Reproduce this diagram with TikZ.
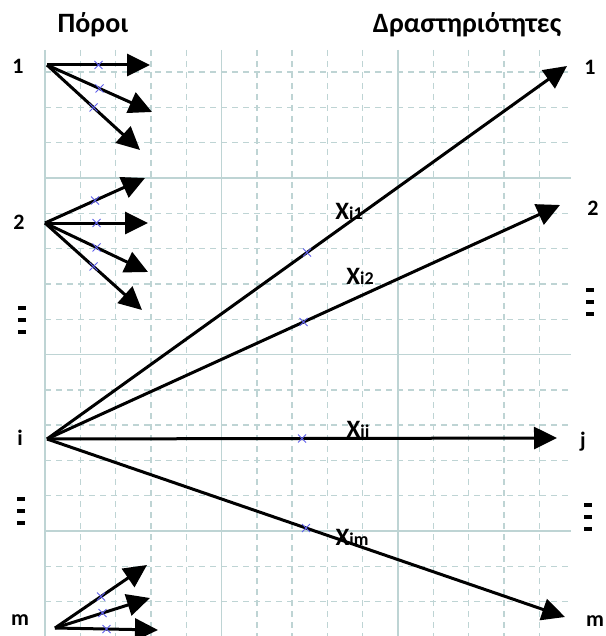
\documentclass[tikz,border=0pt]{standalone}
\usepackage{fontspec}
\setmainfont{Carlito}
\usetikzlibrary{arrows.meta,shapes.misc}
\definecolor{gridline}{RGB}{190,212,212}
\definecolor{markblue}{RGB}{95,95,235}
\newcommand{\threedots}{\vbox{\hrule width 4pt height 2pt\vskip 4pt\hrule width 4pt height 2pt\vskip 4pt\hrule width 4pt height 2pt}}

\begin{document}
\begin{tikzpicture}[x=0.5pt, y=-0.5pt,
  flow/.style={line width=1.5pt, -{Triangle[length=11.5pt, width=11pt]}},
  xmark/.style={cross out, draw=markblue, minimum size=3.5pt, inner sep=0pt, line width=0.5pt},
  lbl/.style={font=\fontsize{11}{13}\selectfont\bfseries, inner sep=0pt},
  ttl/.style={font=\fontsize{14}{17}\selectfont\bfseries, inner sep=0pt},
  amt/.style={font=\fontsize{12.5}{14}\selectfont\bfseries, inner sep=0pt}]
  \useasboundingbox (0,0) rectangle (605,636);
  % sheet grid, a solid line every fifth
  \foreach \k in {1,2,3,4,6,7,8,9,11,12,13,14}
    \draw[gridline, line width=0.7pt, dash pattern=on 3pt off 2.5pt] (45+35.3*\k, 50) -- (45+35.3*\k, 636);
  \foreach \k in {0,5,10}
    \draw[gridline, line width=0.7pt] (45+35.3*\k, 50) -- (45+35.3*\k, 636);
  \foreach \k in {0,1,2,4,5,6,7,9,10,11,12,14,15}
    \draw[gridline, line width=0.7pt, dash pattern=on 3pt off 2.5pt] (45, 72.1+35.3*\k) -- (571, 72.1+35.3*\k);
  \foreach \k in {3,8,13}
    \draw[gridline, line width=0.7pt] (45, 72.1+35.3*\k) -- (571, 72.1+35.3*\k);

  % headings
  \node[ttl] (Poroi) at (93,25) {Πόροι};
  \node[ttl] (Drast) at (467,25) {Δραστηριότητες};

  % resources on the left
  \node[lbl] (R1) at (18,66) {1};
  \node[lbl] (R2) at (19,222) {2};
  \node[inner sep=0pt] (Rd1) at (22,320) {\threedots};
  \node[lbl] (Ri) at (20,438) {i};
  \node[inner sep=0pt] (Rd2) at (21,511) {\threedots};
  \node[lbl] (Rm) at (20,620) {m};

  % activities on the right
  \node[lbl] (A1) at (590,67) {1};
  \node[lbl] (A2) at (593,208) {2};
  \node[inner sep=0pt] (Ad1) at (590,302) {\threedots};
  \node[lbl] (Aj) at (583,442) {j};
  \node[inner sep=0pt] (Ad2) at (588,517) {\threedots};
  \node[lbl] (Am) at (595,621) {m};

  % start and end points of the flows
  \coordinate (S1) at (47,65);
  \coordinate (S2) at (45,223);
  \coordinate (Si) at (47,439);
  \coordinate (Sm) at (55,628);
  \coordinate (T1a) at (150,65);
  \coordinate (T1b) at (152,112);
  \coordinate (T1c) at (140,150);
  \coordinate (T2a) at (145,178);
  \coordinate (T2b) at (148,223);
  \coordinate (T2c) at (148,272);
  \coordinate (T2d) at (142,310);
  \coordinate (Tma) at (147,565);
  \coordinate (Tmb) at (150,598);
  \coordinate (Tmc) at (158,630);
  \coordinate (E1) at (567,66);
  \coordinate (E2) at (560,205);
  \coordinate (Ej) at (557,438);
  \coordinate (Em) at (565,617);

  % short fans of resources 1, 2 and m
  \draw[flow] (S1) -- node[xmark] (c1a) {} (T1a);
  \draw[flow] (S1) -- node[xmark] (c1b) {} (T1b);
  \draw[flow] (S1) -- node[xmark] (c1c) {} (T1c);
  \draw[flow] (S2) -- node[xmark] (c2a) {} (T2a);
  \draw[flow] (S2) -- node[xmark] (c2b) {} (T2b);
  \draw[flow] (S2) -- node[xmark] (c2c) {} (T2c);
  \draw[flow] (S2) -- node[xmark] (c2d) {} (T2d);
  \draw[flow] (Sm) -- node[xmark] (cma) {} (Tma);
  \draw[flow] (Sm) -- node[xmark] (cmb) {} (Tmb);
  \draw[flow] (Sm) -- node[xmark] (cmc) {} (Tmc);

  % resource i to every activity
  \draw[flow] (Si) -- node[xmark] (ci1) {} (E1);
  \draw[flow] (Si) -- node[xmark] (ci2) {} (E2);
  \draw[flow] (Si) -- node[xmark] (cij) {} (Ej);
  \draw[flow] (Si) -- node[xmark] (cim) {} (Em);
  \node[amt] (Xi1) at (349,211) {X{\fontsize{9}{10}\selectfont i1}};
  \node[amt] (Xi2) at (360,276) {X{\fontsize{9}{10}\selectfont i2}};
  \node[amt] (Xij) at (358,431) {X{\fontsize{9}{10}\selectfont ij}};
  \node[amt] (Xim) at (352,537) {X{\fontsize{9}{10}\selectfont im}};
\end{tikzpicture}
\end{document}
